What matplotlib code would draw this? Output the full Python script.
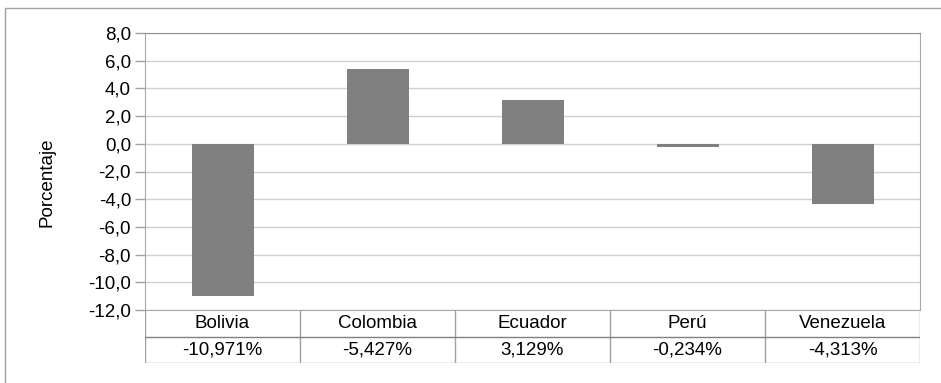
import matplotlib
matplotlib.use("Agg")
import matplotlib.pyplot as plt
from matplotlib.patches import Rectangle
from matplotlib.lines import Line2D

categories = ["Bolivia", "Colombia", "Ecuador", "Perú", "Venezuela"]
values = [-10.971, 5.427, 3.129, -0.234, -4.313]
table_labels = ["-10,971%", "-5,427%", "3,129%", "-0,234%", "-4,313%"]
yticks = [8, 6, 4, 2, 0, -2, -4, -6, -8, -10, -12]

plt.rcParams['font.family'] = ['Liberation Sans', 'DejaVu Sans']
FS = 13.5

W, H = 941, 383
fig = plt.figure(figsize=(W / 100, H / 100), dpi=100)

def fx(px):
    return px / W

def fy(py):
    return 1 - py / H

# outer frame
fig.patches.append(Rectangle((fx(5), fy(395)), fx(950) - fx(5), fy(8) - fy(395),
                             transform=fig.transFigure, fill=False,
                             edgecolor="#a0a0a0", linewidth=1.0))

left, right, top, bottom = 145, 920, 33, 310
ax = fig.add_axes([fx(left), fy(bottom), fx(right) - fx(left), fy(top) - fy(bottom)])
x = list(range(len(categories)))
ax.bar(x, values, width=0.4, color="#808080", zorder=3)
ax.set_xlim(-0.5, len(categories) - 0.5)
ax.set_ylim(-12, 8)
ax.set_yticks(yticks)
ax.set_yticklabels([f"{v:.1f}".replace(".", ",") for v in yticks], fontsize=FS)
ax.set_xticks([])
ax.yaxis.grid(True, color="#d0d0d0", linewidth=1.0, zorder=0)
ax.tick_params(axis="y", length=7, color="#a0a0a0", width=1.0, pad=3)
for s in ["left", "right"]:
    ax.spines[s].set_color("#a8a8a8")
ax.spines["top"].set_color("#909090")
ax.spines["bottom"].set_color("#a8a8a8")
ax.set_ylabel("Porcentaje", fontsize=FS, va="center")
ax.yaxis.set_label_coords((47 - left) / (right - left), (bottom - 182) / (bottom - top))

# table below
tab = fig.add_axes([fx(left), fy(363), fx(right) - fx(left), fy(310) - fy(363)])
tab.set_xlim(-0.5, len(categories) - 0.5)
tab.set_ylim(0, 2)
tab.axis("off")
for i in range(len(categories) + 1):
    tab.add_line(Line2D([i - 0.5, i - 0.5], [0, 2], color="#a0a0a0", linewidth=1.0))
tab.add_line(Line2D([-0.5, len(categories) - 0.5], [1, 1], color="#808080", linewidth=1.0))
tab.add_line(Line2D([-0.5, len(categories) - 0.5], [0, 0], color="#a0a0a0", linewidth=1.0))
for i, (c, t) in enumerate(zip(categories, table_labels)):
    tab.text(i, 1.5, c, ha="center", va="center", fontsize=FS)
    tab.text(i, 0.5, t, ha="center", va="center", fontsize=FS)

fig.savefig("out.png", dpi=100)
